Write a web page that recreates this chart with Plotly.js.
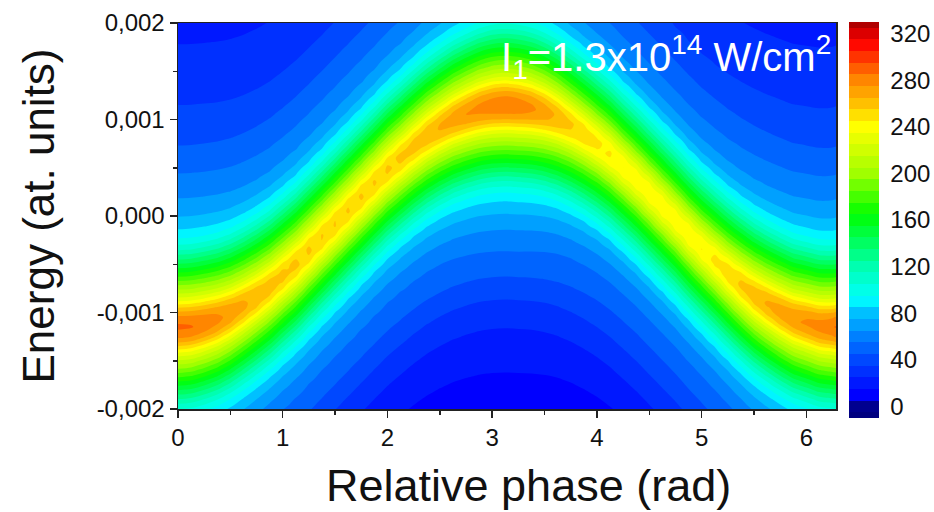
<!DOCTYPE html>
<html>
<head>
<meta charset="utf-8">
<script src="https://cdn.plot.ly/plotly-3.0.1.min.js"></script>
<style>
html,body{margin:0;padding:0;background:#fff;}
#chart{width:934px;height:512px;}
</style>
</head>
<body>
<div id="chart"></div>
<script>
// ---- data ----
// relative phase samples (rad)
const phase = [0, 0.125, 0.25, 0.375, 0.5, 0.625, 0.75, 0.875, 1, 1.125, 1.25, 1.375, 1.5, 1.625, 1.75, 1.875,
  2, 2.125, 2.25, 2.375, 2.5, 2.625, 2.75, 2.875, 3, 3.125, 3.25, 3.375, 3.5, 3.625, 3.75, 3.875,
  4, 4.125, 4.25, 4.375, 4.5, 4.625, 4.75, 4.875, 5, 5.125, 5.25, 5.375, 5.5, 5.625, 5.75, 5.875,
  6, 6.125, 6.25, 6.2832];
// energy of the ridge maximum at each phase (units of 1e-3 at. units)
const ridgeCenter = [-1.15, -1.14, -1.11, -1.07, -1.01, -0.93, -0.84, -0.74, -0.62, -0.50, -0.36, -0.22, -0.08, 0.06, 0.20, 0.34,
  0.48, 0.60, 0.72, 0.83, 0.92, 1.00, 1.06, 1.11, 1.14, 1.15, 1.14, 1.12, 1.08, 1.02, 0.94, 0.85,
  0.75, 0.64, 0.51, 0.38, 0.24, 0.10, -0.04, -0.19, -0.33, -0.46, -0.59, -0.71, -0.82, -0.91, -0.99, -1.06,
  -1.10, -1.14, -1.15, -1.15];
// ridge maximum value at each phase
const ridgePeak = [288, 287, 284, 280, 275, 270, 266, 263, 261, 260, 259, 258, 258, 258, 258, 258,
  259, 260, 262, 265, 268, 272, 276, 280, 283, 284, 283, 279, 273, 266, 259, 254,
  250, 248, 246, 245, 245, 245, 245, 246, 247, 250, 254, 259, 264, 268, 272, 275,
  278, 281, 284, 286];
// cross-section of the ridge: value versus energy distance from the ridge maximum (1e-3 at. units)
const profileOffset = [0, 0.1, 0.15, 0.2, 0.25, 0.3, 0.4, 0.5, 0.6, 0.7, 0.8, 0.9, 1.0, 1.1, 1.2, 1.4, 1.7, 2.0, 2.5, 3.0, 3.5, 4.0];
const profileAbove  = [288, 278, 268, 255, 240, 226, 202, 180, 157, 135, 114, 97, 86, 78, 71, 62, 51, 41, 31, 24, 19, 15];
const profileBelow  = [288, 278, 268, 255, 240, 226, 202, 180, 157, 135, 114, 97, 86, 78, 71, 60, 49, 36, 19, 12, 9, 7];

// tick labels and titles
const energyTicks = [-0.002, -0.001, 0, 0.001, 0.002];
const energyTickText = ['-0,002', '-0,001', '0,000', '0,001', '0,002'];
const energyMinor = [-0.0015, -0.0005, 0.0005, 0.0015];
const phaseTicks = [0, 1, 2, 3, 4, 5, 6];
const phaseMinor = [0.5, 1.5, 2.5, 3.5, 4.5, 5.5];
const colorbarTicks = [0, 40, 80, 120, 160, 200, 240, 280, 320];
const xTitle = 'Relative phase (rad)';
const yTitle = 'Energy (at. units)';
const label = 'I<sub>1</sub>=1.3x10<sup>14</sup> W/cm<sup>2</sup>';

// ---- style ----
const FONT = 'Arial, "Liberation Sans", Helvetica, sans-serif';
const colorLevels = [-10, 0, 10, 20, 40, 60, 80, 92, 120, 165, 200, 240, 260, 282, 312, 330];
const colorHex = ['#000080', '#00008f', '#0000ff', '#0018ff', '#0048ff', '#0080ff', '#00c0ff', '#00ffff', '#00ffb0', '#00ff00', '#a0ff00', '#ffff00', '#ffc000', '#ff8000', '#ff0000', '#b00000'];
const colorscale = colorLevels.map((v, i) => [(v - colorLevels[0]) / (colorLevels[colorLevels.length - 1] - colorLevels[0]), colorHex[i]]);

// ---- build the z table from the read values ----
function lookup(table, d) {
  if (d >= profileOffset[profileOffset.length - 1]) return table[table.length - 1];
  for (let j = 1; j < profileOffset.length; j++) {
    if (d <= profileOffset[j]) {
      const t = (d - profileOffset[j - 1]) / (profileOffset[j] - profileOffset[j - 1]);
      return table[j - 1] + t * (table[j] - table[j - 1]);
    }
  }
  return table[table.length - 1];
}
const energyGrid = [];
for (let k = 0; k <= 80; k++) energyGrid.push(-0.002 + k * 0.00005);
const z = energyGrid.map(e => phase.map((p, i) => {
  const d = e * 1000 - ridgeCenter[i];
  const v = d >= 0 ? lookup(profileAbove, d) : lookup(profileBelow, -d);
  return v * ridgePeak[i] / profileAbove[0];
}));

const axisCommon = {
  showline: true, linecolor: '#222', linewidth: 1.5, mirror: true,
  showgrid: false, zeroline: false,
  ticks: 'outside', ticklen: 7, tickwidth: 1.5, tickcolor: '#222',
  tickfont: {family: FONT, size: 24, color: '#111'}
};

const trace = {
  type: 'contour',
  x: phase,
  y: energyGrid,
  z: z,
  colorscale: colorscale,
  contours: {start: -5, end: 325, size: 10, coloring: 'fill', showlines: false},
  line: {width: 0, smoothing: 1},
  hoverinfo: 'skip',
  colorbar: {
    x: 1.0198, xanchor: 'left', xpad: 0,
    y: 0.4896, yanchor: 'middle', ypad: 0,
    len: 396, lenmode: 'pixels',
    thickness: 30, thicknessmode: 'pixels',
    tickmode: 'array', tickvals: colorbarTicks,
    ticks: 'outside', ticklen: 7, tickcolor: 'rgba(0,0,0,0)',
    tickfont: {family: FONT, size: 24, color: '#111'},
    outlinewidth: 0, borderwidth: 0
  }
};

const layout = {
  width: 934, height: 512,
  margin: {l: 178, r: 98, t: 23, b: 103, autoexpand: false},
  paper_bgcolor: '#fff', plot_bgcolor: '#fff',
  font: {family: FONT, color: '#111'},
  showlegend: false,
  xaxis: Object.assign({}, axisCommon, {
    range: [0, 6.2832],
    tickmode: 'array', tickvals: phaseTicks,
    minor: {tickmode: 'array', tickvals: phaseMinor, ticks: 'outside', ticklen: 4, tickwidth: 1.5, tickcolor: '#222', showgrid: false}
  }),
  yaxis: Object.assign({}, axisCommon, {
    range: [-0.002, 0.002],
    tickmode: 'array', tickvals: energyTicks, ticktext: energyTickText,
    minor: {tickmode: 'array', tickvals: energyMinor, ticks: 'outside', ticklen: 4, tickwidth: 1.5, tickcolor: '#222', showgrid: false},
    title: {text: yTitle, font: {family: FONT, size: 44, color: '#111'}, standoff: 28}
  }),
  annotations: [{
    xref: 'paper', yref: 'paper',
    x: 0.9954, xanchor: 'right',
    y: 0.99, yanchor: 'top',
    showarrow: false,
    text: label,
    font: {family: FONT, size: 40, color: '#ffffff'}
  }, {
    xref: 'paper', yref: 'paper',
    x: 0.532, xanchor: 'center',
    y: -0.197, yanchor: 'middle',
    showarrow: false, borderpad: 0,
    text: xTitle,
    font: {family: FONT, size: 45, color: '#111'}
  }]
};

Plotly.newPlot('chart', [trace], layout, {displayModeBar: false, staticPlot: true});
</script>
</body>
</html>
